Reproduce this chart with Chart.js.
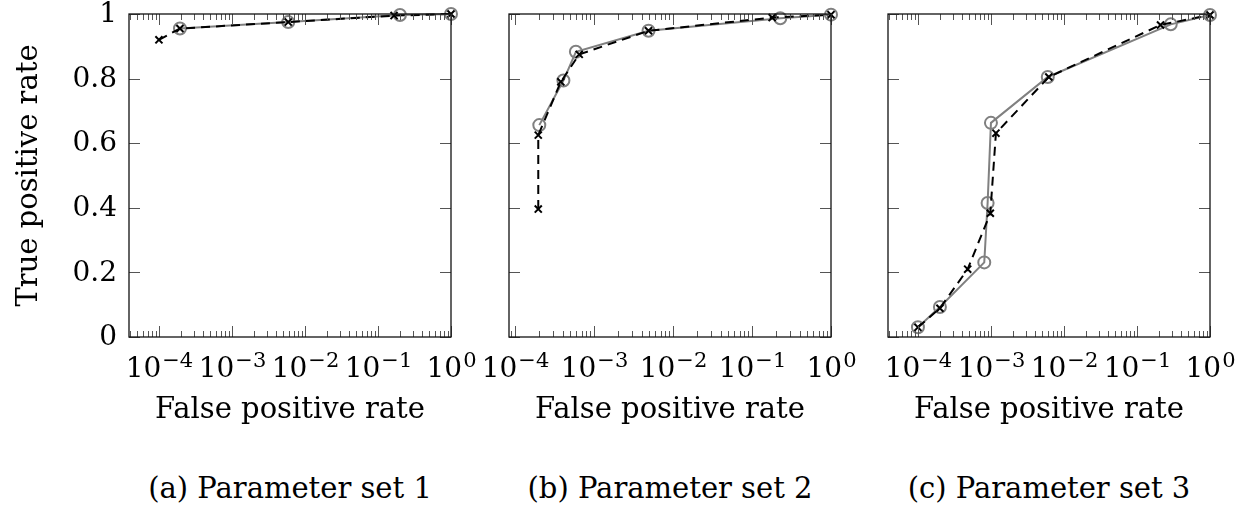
<!DOCTYPE html>
<html>
<head>
<meta charset="utf-8">
<script src="https://cdn.jsdelivr.net/npm/chart.js@4.4.1/dist/chart.umd.min.js"></script>
<style>
  html, body { margin: 0; padding: 0; background: #fff; }
  body { width: 1246px; height: 510px; position: relative; overflow: hidden; }
  canvas { position: absolute; top: 0; }
  .cap { position: absolute; top: 470px; font: 29px/36px "DejaVu Serif", serif; color: #000; text-align: center; white-space: nowrap; }
</style>
</head>
<body>
<canvas id="c1" width="480" height="440" style="left:0px"></canvas>
<canvas id="c2" width="380" height="440" style="left:480px"></canvas>
<canvas id="c3" width="386" height="440" style="left:860px"></canvas>
<div class="cap" style="left:140px;width:300px">(a) Parameter set 1</div>
<div class="cap" style="left:520px;width:300px">(b) Parameter set 2</div>
<div class="cap" style="left:899px;width:300px">(c) Parameter set 3</div>
<script>
// --- data ---
// panel (a)
const a_grayFpr  = [1.94e-4, 5.9e-3, 0.2, 1];
const a_grayTpr  = [0.955, 0.975, 0.997, 1.0];
const a_blackFpr = [1e-4, 1.94e-4, 5.9e-3, 0.166, 1];
const a_blackTpr = [0.92, 0.955, 0.975, 0.995, 1.0];
// panel (b)
const b_grayFpr  = [2.03e-4, 4.1e-4, 5.9e-4, 4.9e-3, 0.228, 1];
const b_grayTpr  = [0.656, 0.794, 0.883, 0.948, 0.987, 0.998];
const b_blackFpr = [1.97e-4, 1.97e-4, 3.8e-4, 6.5e-4, 4.9e-3, 0.18, 1];
const b_blackTpr = [0.396, 0.625, 0.790, 0.875, 0.948, 0.989, 0.998];
// panel (c)
const c_grayFpr  = [1e-4, 2e-4, 8.1e-4, 9e-4, 1e-3, 6e-3, 0.29, 1];
const c_grayTpr  = [0.030, 0.093, 0.231, 0.415, 0.663, 0.805, 0.968, 0.997];
const c_blackFpr = [1e-4, 2e-4, 4.8e-4, 9.8e-4, 1.17e-3, 6.2e-3, 0.21, 1];
const c_blackTpr = [0.030, 0.089, 0.210, 0.383, 0.631, 0.805, 0.966, 0.997];

const xTickValues = [1e-4, 1e-3, 1e-2, 1e-1, 1];
const xTickExps   = ['\u22124', '\u22123', '\u22122', '\u22121', '0'];
const yTickValues = [0, 0.2, 0.4, 0.6, 0.8, 1];
const yTickLabels = ['0', '0.2', '0.4', '0.6', '0.8', '1'];

const xTitle = 'False positive rate';
const yTitle = 'True positive rate';
const FONT = '"DejaVu Serif", serif';

function zip(xs, ys) { return xs.map((v, i) => ({ x: v, y: ys[i] })); }

// axis frame, inward ticks (pgfplots style) and tick labels
const framePlugin = {
  id: 'frame',
  afterDraw(chart, args, opts) {
    const { ctx, chartArea: a, scales: { x, y } } = chart;
    ctx.save();
    ctx.lineWidth = 1;
    ctx.strokeStyle = '#555';
    const lo = Math.floor(Math.log10(x.min)), hi = Math.ceil(Math.log10(x.max));
    ctx.beginPath();
    for (let n = lo; n <= hi; n++) {
      for (let k = 1; k <= 9; k++) {
        const v = k * Math.pow(10, n);
        if (v < x.min * 0.999 || v > x.max * 1.001) continue;
        const px = Math.round(x.getPixelForValue(v)) + 0.5;
        const len = k === 1 ? 11 : 6;
        ctx.moveTo(px, a.bottom); ctx.lineTo(px, a.bottom - len);
        ctx.moveTo(px, a.top); ctx.lineTo(px, a.top + len);
      }
    }
    yTickValues.forEach(v => {
      const py = Math.round(y.getPixelForValue(v)) + 0.5;
      ctx.moveTo(a.left, py); ctx.lineTo(a.left + 11, py);
      ctx.moveTo(a.right, py); ctx.lineTo(a.right - 11, py);
    });
    ctx.stroke();

    ctx.strokeStyle = '#111';
    ctx.lineWidth = 1.3;
    ctx.strokeRect(a.left, a.top, a.width, a.height);

    ctx.fillStyle = '#000';
    ctx.textBaseline = 'alphabetic';
    ctx.textAlign = 'left';
    xTickValues.forEach((v, i) => {
      const px = x.getPixelForValue(v);
      ctx.font = '28px ' + FONT;
      const wb = ctx.measureText('10').width;
      ctx.font = '21px ' + FONT;
      const we = ctx.measureText(xTickExps[i]).width;
      const x0 = px - (wb + we) / 2;
      ctx.font = '28px ' + FONT;
      ctx.fillText('10', x0, a.bottom + 40);
      ctx.font = '21px ' + FONT;
      ctx.fillText(xTickExps[i], x0 + wb + 1, a.bottom + 30);
    });

    if (opts.yLabels) {
      ctx.font = '28px ' + FONT;
      ctx.textAlign = 'right';
      ctx.textBaseline = 'middle';
      yTickValues.forEach((v, i) => {
        ctx.fillText(yTickLabels[i], a.left - 12, y.getPixelForValue(v) + 1);
      });
    }
    ctx.restore();
  }
};

function makePanel(id, grayFpr, grayTpr, blackFpr, blackTpr, xMin, yWidth, padRight, showY) {
  return new Chart(document.getElementById(id), {
    type: 'line',
    data: {
      datasets: [
        {
          data: zip(blackFpr, blackTpr),
          borderColor: '#000',
          borderWidth: 2,
          borderDash: [9, 6],
          pointStyle: 'crossRot',
          pointRadius: 5,
          pointBorderWidth: 2,
          pointBorderColor: '#000',
          pointBackgroundColor: '#000',
          tension: 0,
          clip: false
        },
        {
          data: zip(grayFpr, grayTpr),
          borderColor: '#808080',
          borderWidth: 2,
          pointStyle: 'circle',
          pointRadius: 6,
          pointBorderWidth: 2,
          pointBorderColor: '#808080',
          pointBackgroundColor: 'rgba(0,0,0,0)',
          tension: 0,
          clip: false
        }
      ]
    },
    options: {
      responsive: false,
      animation: false,
      devicePixelRatio: 1,
      layout: { autoPadding: false, padding: { top: 14, right: padRight, bottom: 0, left: 0 } },
      plugins: { legend: { display: false }, tooltip: { enabled: false }, frame: { yLabels: showY } },
      scales: {
        x: {
          type: 'logarithmic',
          min: xMin,
          max: 1,
          grid: { display: false },
          border: { display: false },
          ticks: { display: false },
          title: {
            display: true,
            text: xTitle,
            color: '#000',
            font: { family: FONT, size: 29 },
            padding: { top: 0, bottom: 12 }
          },
          afterFit: s => { s.height = 103; }
        },
        y: {
          min: 0,
          max: 1,
          grid: { display: false },
          border: { display: false },
          ticks: { display: false },
          title: {
            display: showY,
            text: yTitle,
            color: '#000',
            font: { family: FONT, size: 29 },
            padding: { top: 12, bottom: 0 }
          },
          afterFit: s => { s.width = yWidth; }
        }
      }
    },
    plugins: [framePlugin]
  });
}

makePanel('c1', a_grayFpr, a_grayTpr, a_blackFpr, a_blackTpr, Math.pow(10, -4.41), 129, 29, true);
makePanel('c2', b_grayFpr, b_grayTpr, b_blackFpr, b_blackTpr, Math.pow(10, -4.076), 29, 29, false);
makePanel('c3', c_grayFpr, c_grayTpr, c_blackFpr, c_blackTpr, Math.pow(10, -4.41), 28, 36, false);
</script>
</body>
</html>
